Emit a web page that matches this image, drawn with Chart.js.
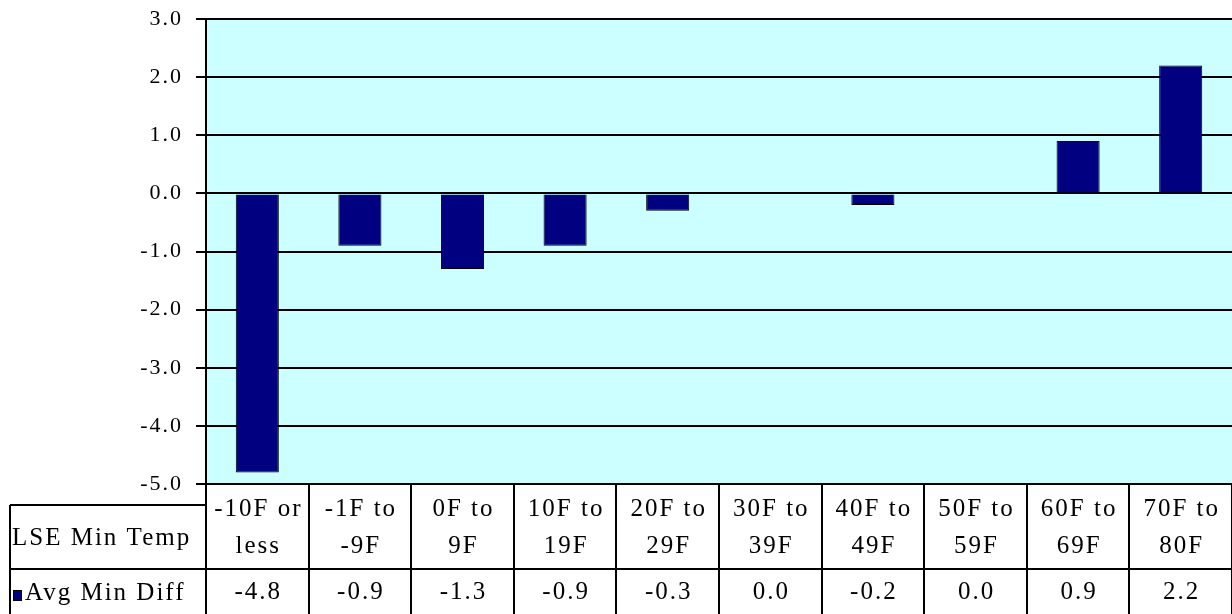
<!DOCTYPE html>
<html>
<head>
<meta charset="utf-8">
<script src="https://cdn.jsdelivr.net/npm/chart.js@4"></script>
<style>
  html, body { margin: 0; padding: 0; background: #ffffff; }
  #wrap { width: 1232px; height: 614px; }
</style>
</head>
<body>
<div id="wrap"><canvas id="myChart" width="1232" height="614"></canvas></div>
<script>
// data
const labelTop = ['-10F or', '-1F to', '0F to', '10F to', '20F to', '30F to', '40F to', '50F to', '60F to', '70F to'];
const labelBottom = ['less', '-9F', '9F', '19F', '29F', '39F', '49F', '59F', '69F', '80F'];
const avgMinDiff = [-4.8, -0.9, -1.3, -0.9, -0.3, 0.0, -0.2, 0.0, 0.9, 2.2];
const rowTitle = 'LSE Min Temp';
const seriesName = 'Avg Min Diff';
const yTicks = { min: -5, max: 3, step: 1 };

const serif = '"Liberation Serif", "Times New Roman", serif';
const textFont = '25px ' + serif;

// cyan plot background
const plotBackground = {
  id: 'plotBackground',
  beforeDraw(chart) {
    const ctx = chart.ctx;
    const a = chart.chartArea;
    ctx.save();
    ctx.fillStyle = '#ccffff';
    ctx.fillRect(a.left, a.top, a.right - a.left, a.bottom - a.top);
    ctx.restore();
    // wide spacing like the old bitmap font, tick labels pick it up too
    ctx.letterSpacing = '2px';
  }
};

// data table under the plot, columns taken from the x scale
const dataTable = {
  id: 'dataTable',
  afterDraw(chart) {
    const ctx = chart.ctx;
    const x = chart.scales.x;
    const a = chart.chartArea;
    const n = labelTop.length;
    const colW = (a.right - a.left) / n;
    const top = a.bottom;
    const rowLine = 569;
    const boxTop = 505;
    const boxLeft = 10;
    const bottom = chart.height;

    ctx.save();
    ctx.strokeStyle = '#000000';
    ctx.lineWidth = 2;
    ctx.beginPath();
    // column separators
    for (let i = 0; i <= n; i++) {
      const cx = Math.round(a.left + i * colW);
      ctx.moveTo(cx, top);
      ctx.lineTo(cx, bottom);
    }
    // row title box
    ctx.moveTo(boxLeft, boxTop);
    ctx.lineTo(a.left, boxTop);
    ctx.moveTo(boxLeft, boxTop);
    ctx.lineTo(boxLeft, bottom);
    ctx.moveTo(boxLeft, rowLine);
    ctx.lineTo(a.right, rowLine);
    ctx.stroke();

    ctx.font = textFont;
    ctx.letterSpacing = '2px';
    ctx.fillStyle = '#000000';
    ctx.textBaseline = 'middle';
    ctx.textAlign = 'center';
    for (let i = 0; i < n; i++) {
      const cx = x.getPixelForValue(i) + 1;
      ctx.fillText(labelTop[i], cx, 509);
      ctx.fillText(labelBottom[i], cx, 546);
      ctx.fillText(avgMinDiff[i].toFixed(1), cx, 592);
    }

    ctx.textAlign = 'left';
    ctx.fillText(rowTitle, 12, 538);
    ctx.fillText(seriesName, 25, 593);

    // legend key
    ctx.fillStyle = '#000080';
    ctx.fillRect(13, 590, 9, 11);
    ctx.lineWidth = 1;
    ctx.strokeRect(13.5, 590.5, 8, 10);
    ctx.restore();
  }
};

new Chart(document.getElementById('myChart'), {
  type: 'bar',
  data: {
    labels: labelTop,
    datasets: [{
      label: seriesName,
      data: avgMinDiff,
      backgroundColor: '#000080',
      borderColor: '#000000',
      borderWidth: 1,
      barPercentage: 0.42,
      categoryPercentage: 1
    }]
  },
  options: {
    responsive: false,
    animation: false,
    layout: { padding: { top: 19, bottom: 130, left: 0, right: 0 } },
    plugins: {
      legend: { display: false },
      tooltip: { enabled: false }
    },
    scales: {
      x: { display: false },
      y: {
        min: yTicks.min,
        max: yTicks.max,
        afterFit(scale) {
          scale.width = 206;
          scale.paddingTop = 0;
          scale.paddingBottom = 0;
        },
        ticks: {
          stepSize: yTicks.step,
          padding: 13,
          color: '#000000',
          font: { family: serif, size: 22 },
          callback: v => v.toFixed(1)
        },
        grid: {
          color: '#000000',
          lineWidth: 2,
          tickLength: 10
        },
        border: { color: '#000000', width: 2 }
      }
    }
  },
  plugins: [plotBackground, dataTable]
});
</script>
</body>
</html>
